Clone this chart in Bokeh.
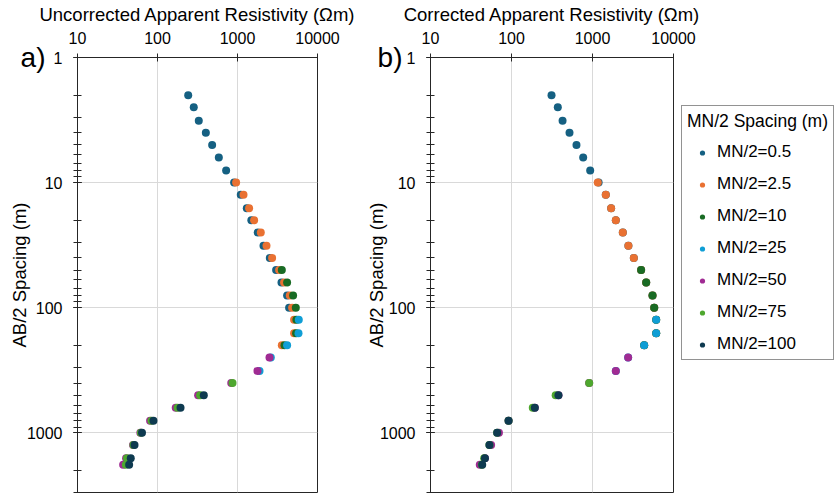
from bokeh.plotting import figure
from bokeh.models import (Range1d, NumeralTickFormatter, LogTicker, Legend,
                          LegendItem, LogAxis, FixedTicker)
from bokeh.layouts import row
from bokeh.embed import file_html
from bokeh.resources import INLINE

# ---------------- data ----------------
# AB/2 spacing (m) of each sounding station
ab2 = [2, 2.5, 3.2, 4, 5, 6.3, 8, 10, 12.5, 16, 20, 25, 32, 40, 50, 63, 80,
       100, 125, 160, 200, 250, 320, 400, 500, 630, 800, 1000, 1250, 1600, 1800]

series_names = ["MN/2=0.5", "MN/2=2.5", "MN/2=10", "MN/2=25",
                "MN/2=50", "MN/2=75", "MN/2=100"]
series_colors = ["#156082", "#E97132", "#196B24", "#0F9ED5",
                 "#A02B93", "#4EA72E", "#0E3A50"]

# index range (first, last) of AB/2 rows measured with each MN/2
rows_mn05 = (0, 17)
rows_mn25 = (7, 20)
rows_mn10 = (14, 20)
rows_mn250 = (18, 22)
rows_mn50 = (21, 30)
rows_mn75 = (23, 30)
rows_mn100 = (24, 30)

# uncorrected apparent resistivity (ohm m)
unc_mn05 = [242, 284, 328, 402, 482, 584, 721, 907, 1099, 1307, 1490, 1790,
            2113, 2535, 3038, 3548, 4169, 4416]
unc_mn25 = [961, 1189, 1396, 1613, 1955, 2304, 2707, 3311, 3823, 4508, 4815,
            5098, 5098, 3580]
unc_mn10 = [3580, 4169, 4955, 5355, 5450, 5400, 3868]
unc_mn250 = [5834, 5788, 4169, 2608, 1884]
unc_mn50 = [2512, 1778, 835, 322, 169, 80.8, 61, 49.5, 40.5, 37.2]
unc_mn75 = [866, 341, 178, 84, 62, 50, 41.5, 40.2]
unc_mn100 = [379, 194, 89, 64, 51.6, 46.3, 44.2]

# corrected apparent resistivity (ohm m)
cor_mn05 = [312, 373, 427, 520, 634, 767, 936, 1190, 1459, 1698, 1940, 2367,
            2775, 3236, 3981, 4600, 5508, 5780]
cor_mn25 = [1161, 1459, 1698, 1940, 2367, 2775, 3236, 3981, 4600, 5508, 5780,
            6115, 6115, 4345]
cor_mn10 = [3981, 4600, 5508, 5780, 6115, 6115, 4345]
cor_mn250 = [6115, 6115, 4345, 2755, 1940]
cor_mn50 = [2755, 1940, 910, 380, 194, 92, 70, 56, 47, 40.6]
cor_mn75 = [910, 351, 183, 92, 66.5, 53.4, 46, 43]
cor_mn100 = [380, 194, 92, 66.5, 53.4, 47, 43.5]

row_ranges = [rows_mn05, rows_mn25, rows_mn10, rows_mn250, rows_mn50,
              rows_mn75, rows_mn100]
unc_all = [unc_mn05, unc_mn25, unc_mn10, unc_mn250, unc_mn50, unc_mn75,
           unc_mn100]
cor_all = [cor_mn05, cor_mn25, cor_mn10, cor_mn250, cor_mn50, cor_mn75,
           cor_mn100]

FONT = "Liberation Sans"
AXIS_COL = "#262626"
TITLE_SIZE = "18.5px"


def make_fig(width, mb_left, mb_right, xlabel, tag, tag_standoff):
    p = figure(width=width, height=495, x_axis_type="log", y_axis_type="log",
               x_axis_location="above",
               x_range=Range1d(10, 10000), y_range=Range1d(3000, 1),
               output_backend="svg", toolbar_location=None,
               min_border_left=mb_left, min_border_right=mb_right,
               min_border_top=57, min_border_bottom=3)
    p.background_fill_color = "white"
    p.border_fill_color = "white"
    p.outline_line_color = AXIS_COL
    p.outline_line_width = 1

    p.yaxis.ticker = LogTicker(num_minor_ticks=10)
    for ax in (p.xaxis[0], p.yaxis[0]):
        ax.formatter = NumeralTickFormatter(format="0")
        ax.axis_line_color = AXIS_COL
        ax.major_tick_line_color = AXIS_COL
        ax.minor_tick_line_color = AXIS_COL
        ax.major_tick_in = 4
        ax.major_tick_out = 4
        ax.minor_tick_in = 4
        ax.minor_tick_out = 4
        ax.major_label_text_font = FONT
        ax.major_label_text_font_size = "16px"
        ax.major_label_text_color = "black"
        ax.axis_label_text_font = FONT
        ax.axis_label_text_font_size = TITLE_SIZE
        ax.axis_label_text_font_style = "normal"
        ax.axis_label_text_color = "black"
    p.xaxis.minor_tick_line_color = None
    p.xaxis.axis_label = xlabel
    p.xaxis.major_label_standoff = 10
    p.xaxis.axis_label_standoff = 4
    p.yaxis.major_label_standoff = 11

    # outer left axis: carries the panel tag and the y title
    tag_ax = LogAxis(ticker=FixedTicker(ticks=[1]),
                     major_label_overrides={1: tag},
                     axis_label="AB/2 Spacing (m)")
    tag_ax.axis_line_color = None
    tag_ax.major_tick_line_color = None
    tag_ax.minor_tick_line_color = None
    tag_ax.major_tick_in = 0
    tag_ax.major_tick_out = 0
    tag_ax.major_label_standoff = tag_standoff
    tag_ax.major_label_text_font = FONT
    tag_ax.major_label_text_font_size = "28px"
    tag_ax.major_label_text_color = "black"
    tag_ax.axis_label_standoff = -12
    tag_ax.axis_label_text_font = FONT
    tag_ax.axis_label_text_font_size = TITLE_SIZE
    tag_ax.axis_label_text_font_style = "normal"
    tag_ax.axis_label_text_color = "black"
    p.add_layout(tag_ax, "left")

    p.xgrid.grid_line_color = "#D9D9D9"
    p.ygrid.grid_line_color = "#D9D9D9"
    p.xgrid.minor_grid_line_color = None
    p.ygrid.minor_grid_line_color = None
    return p


p1 = make_fig(357, 77, 40, "Uncorrected Apparent Resistivity (\u03a9m)",
              "a)", -22)
p2 = make_fig(361, 73, 45, "Corrected Apparent Resistivity (\u03a9m)",
              "b)", -26)

# transparent legend panel that overlaps the right border of p2
p3 = figure(width=160, height=495, x_range=Range1d(0, 1),
            y_range=Range1d(0, 1), x_axis_location=None,
            y_axis_location=None, output_backend="svg",
            toolbar_location=None, min_border_left=0, min_border_right=0,
            min_border_top=0, min_border_bottom=0, margin=(0, 0, 0, -43))
p3.grid.visible = False
p3.outline_line_color = None
p3.background_fill_alpha = 0
p3.border_fill_alpha = 0

items = []
for name, col, rr, unc, cor in zip(series_names, series_colors, row_ranges,
                                   unc_all, cor_all):
    ys = ab2[rr[0]:rr[1] + 1]
    p1.scatter(unc, ys, size=8, marker="circle", fill_color=col,
               line_color=None)
    p2.scatter(cor, ys, size=8, marker="circle", fill_color=col,
               line_color=None)
    # legend key: first corrected point, lies outside this panel's range
    key = p3.scatter(x=cor[:1], y=ys[:1], size=8, marker="circle",
                     fill_color=col, line_color=None)
    items.append(LegendItem(label=name, renderers=[key]))

legend = Legend(items=items, title="MN/2 Spacing (m)",
                location=(6, 132), margin=0, padding=5,
                title_text_font=FONT, title_text_font_size="17.5px",
                title_text_font_style="normal", title_text_color="black",
                title_standoff=10,
                label_text_font=FONT, label_text_font_size="17px",
                label_text_color="black",
                glyph_width=30, glyph_height=13, label_standoff=0,
                label_height=20, spacing=12,
                border_line_color=AXIS_COL, border_line_width=1,
                background_fill_color="white", background_fill_alpha=1.0)
p3.add_layout(legend, "center")

layout = row(p1, p2, p3)
open("out.html", "w").write(file_html(layout, INLINE))
